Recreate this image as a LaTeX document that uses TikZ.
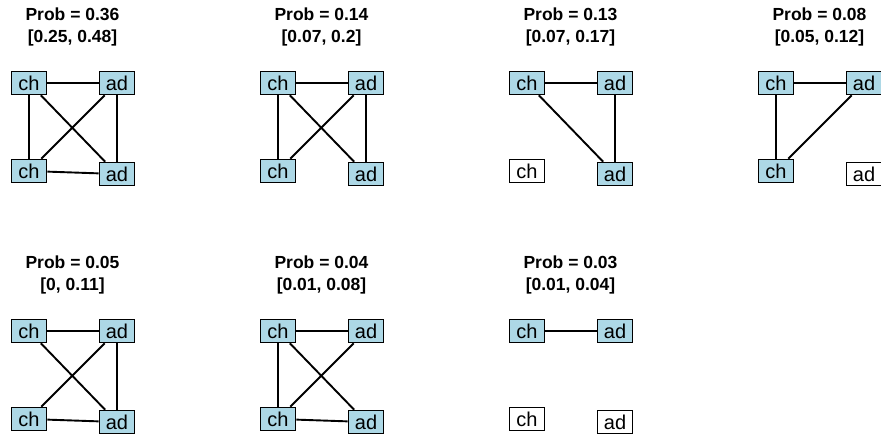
\documentclass[tikz,border=0pt]{standalone}
\usepackage{fontspec}
\setmainfont{Liberation Sans}
\definecolor{nodeblue}{RGB}{173,216,230}
\tikzset{
  var/.style={draw=black, line width=1.6pt, inner sep=0pt, minimum width=35pt,
    minimum height=23pt, font=\fontsize{20}{20}\selectfont},
  on/.style={var, fill=nodeblue},
  off/.style={var, fill=white},
  edge/.style={line width=1.9pt, black},
  title/.style={align=center, font=\bfseries\fontsize{17.5}{22}\selectfont}
}
% #1 prefix, #2 x, #3 y, #4,#5,#6,#7 styles of the four nodes, #8 probability, #9 interval
\newcommand{\graphpanel}[9]{%
  \node[title] at (#2+72.5, #3+27) {Prob = #8\\\relax{}[#9]};
  \node[#4] (#1a) at (#2+29, #3+83) {ch};
  \node[#5] (#1b) at (#2+117, #3+83) {ad};
  \node[#6] (#1c) at (#2+29, #3+171) {ch};
  \node[#7] (#1d) at (#2+117, #3+174) {ad};
}
\begin{document}
\begin{tikzpicture}[x=1pt, y=-1pt]
\useasboundingbox (0,0) rectangle (881,438);
\clip (0,0) rectangle (881,438);
% first row
\graphpanel{p}{0}{0}{on}{on}{on}{on}{0.36}{0.25, 0.48}
\draw[edge] (pa) -- (pb);
\draw[edge] (pa) -- (pc);
\draw[edge] (pb) -- (pd);
\draw[edge] (pa) -- (pd);
\draw[edge] (pb) -- (pc);
\draw[edge] (pc) -- (pd);
\graphpanel{q}{249}{0}{on}{on}{on}{on}{0.14}{0.07, 0.2}
\draw[edge] (qa) -- (qb);
\draw[edge] (qa) -- (qc);
\draw[edge] (qb) -- (qd);
\draw[edge] (qa) -- (qd);
\draw[edge] (qb) -- (qc);
\graphpanel{r}{498}{0}{on}{on}{off}{on}{0.13}{0.07, 0.17}
\draw[edge] (ra) -- (rb);
\draw[edge] (ra) -- (rd);
\draw[edge] (rb) -- (rd);
\graphpanel{s}{747}{0}{on}{on}{on}{off}{0.08}{0.05, 0.12}
\draw[edge] (sa) -- (sb);
\draw[edge] (sa) -- (sc);
\draw[edge] (sb) -- (sc);
% second row
\graphpanel{t}{0}{248}{on}{on}{on}{on}{0.05}{0, 0.11}
\draw[edge] (ta) -- (tb);
\draw[edge] (ta) -- (td);
\draw[edge] (tb) -- (tc);
\draw[edge] (tb) -- (td);
\draw[edge] (tc) -- (td);
\graphpanel{u}{249}{248}{on}{on}{on}{on}{0.04}{0.01, 0.08}
\draw[edge] (ua) -- (ub);
\draw[edge] (ua) -- (uc);
\draw[edge] (ua) -- (ud);
\draw[edge] (ub) -- (uc);
\draw[edge] (uc) -- (ud);
\graphpanel{v}{498}{248}{on}{on}{off}{off}{0.03}{0.01, 0.04}
\draw[edge] (va) -- (vb);
\end{tikzpicture}
\end{document}
